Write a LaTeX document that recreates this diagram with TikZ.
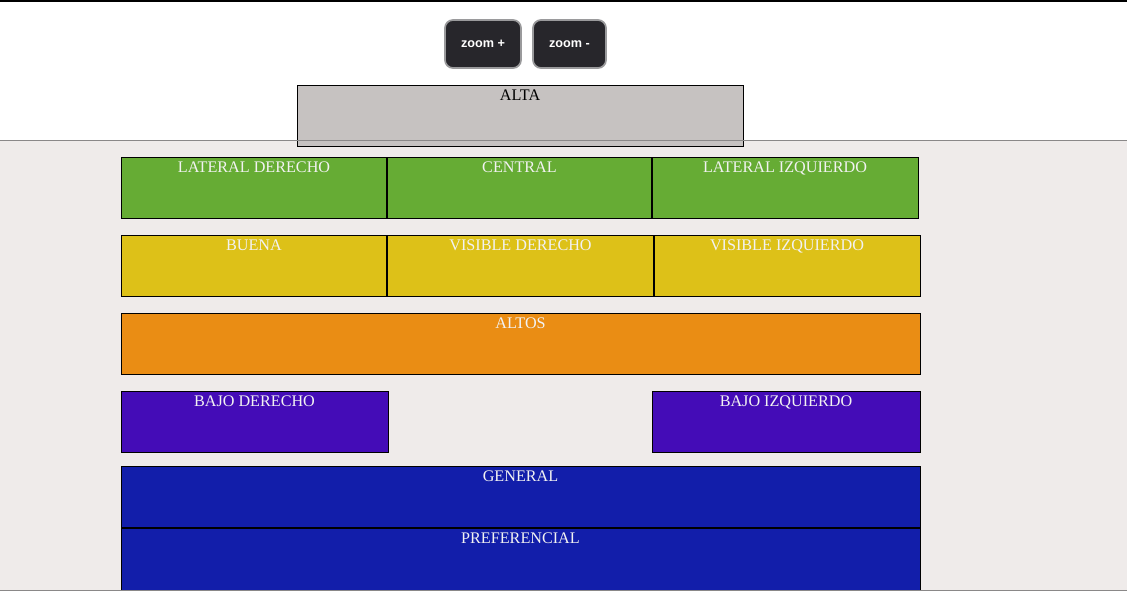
\documentclass[tikz,border=0pt]{standalone}
\usepackage{fontspec}
\setmainfont{Liberation Serif}
\newfontfamily\btnfont{Liberation Sans}
\definecolor{pagebg}{HTML}{EFEBEA}
\definecolor{rulegray}{HTML}{8A8888}
\definecolor{btndark}{HTML}{27262B}
\definecolor{btnedge}{HTML}{9A9A9C}
\definecolor{altagray}{HTML}{C6C2C1}
\definecolor{zonegreen}{HTML}{66AC34}
\definecolor{zoneyellow}{HTML}{DDC118}
\definecolor{zoneorange}{HTML}{EA8D14}
\definecolor{zonepurple}{HTML}{440CB7}
\definecolor{zoneblue}{HTML}{121EAA}
\definecolor{zonewhite}{HTML}{F2F2F2}
\tikzset{%
	zone/.style={draw=black,line width=0.02cm},
	zonetext/.style={anchor=base,inner sep=0pt,text=zonewhite,font=\fontsize{9.2}{10}\selectfont},
	button/.style={draw=btnedge,line width=0.035cm,fill=btndark,rounded corners=0.16cm},
	btntext/.style={inner sep=0pt,text=white,font=\btnfont\bfseries\fontsize{7.2}{8}\selectfont},
}

\begin{document}
\begin{tikzpicture}[x=0.02cm,y=-0.02cm]
			\useasboundingbox (0,0) rectangle (1127,596);
			\fill[white] (0,0) rectangle (1127,596);
			\fill[pagebg] (0,140) rectangle (1127,590);
			\draw[black, line width=0.03cm] (0,0.75) -- (1127,0.75);
			
			%botones
			\draw[button] (445,20) rectangle (521,68);
			\draw[button] (533,20) rectangle (606,68);
			\node[btntext] (zoomin) at (483,44) {zoom +};
			\node[btntext] (zoomout) at (569.5,44) {zoom -};
			
			%alta
			\draw[zone, fill=altagray] (297,85) rectangle (743,146);
			\node[zonetext, text=black] (alta) at (520,100.5) {ALTA};
			\draw[rulegray, line width=0.02cm] (0,140.5) -- (1127,140.5);
			
			%laterales
			\draw[zone, fill=zonegreen] (121,157) rectangle (386.5,218);
			\draw[zone, fill=zonegreen] (387.5,157) rectangle (651.5,218);
			\draw[zone, fill=zonegreen] (652.5,157) rectangle (918,218);
			\node[zonetext] (latder) at (254,172) {LATERAL DERECHO};
			\node[zonetext] (central) at (519.5,172) {CENTRAL};
			\node[zonetext] (latizq) at (785,172) {LATERAL IZQUIERDO};
			
			%visibles
			\draw[zone, fill=zoneyellow] (121,235) rectangle (386.5,296);
			\draw[zone, fill=zoneyellow] (387.5,235) rectangle (653.5,296);
			\draw[zone, fill=zoneyellow] (654.5,235) rectangle (920,296);
			\node[zonetext] (buena) at (254,250) {BUENA};
			\node[zonetext] (visder) at (520.5,250) {VISIBLE DERECHO};
			\node[zonetext] (visizq) at (787,250) {VISIBLE IZQUIERDO};
			
			%altos
			\draw[zone, fill=zoneorange] (121,313) rectangle (920,374);
			\node[zonetext] (altos) at (520.5,328) {ALTOS};
			
			%bajos
			\draw[zone, fill=zonepurple] (121,391) rectangle (388,452);
			\draw[zone, fill=zonepurple] (652,391) rectangle (920,452);
			\node[zonetext] (bajder) at (254.5,406) {BAJO DERECHO};
			\node[zonetext] (bajizq) at (786,406) {BAJO IZQUIERDO};
			
			%general y preferencial
			\draw[zone, fill=zoneblue] (121,466) rectangle (920,527);
			\draw[zone, fill=zoneblue] (121,528) rectangle (920,590);
			\node[zonetext] (general) at (520.5,481) {GENERAL};
			\node[zonetext] (pref) at (520.5,543) {PREFERENCIAL};
			\draw[rulegray, line width=0.02cm] (0,590.5) -- (1127,590.5);
		\end{tikzpicture}
\end{document}
